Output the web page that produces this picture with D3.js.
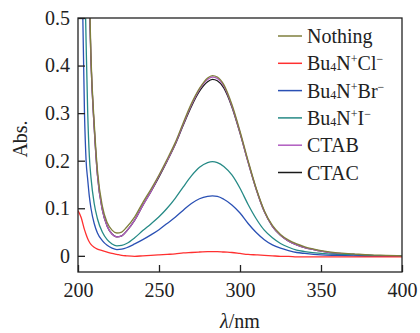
<!DOCTYPE html>
<meta charset="utf-8">
<style>
    body { margin: 0; background: #fff; }
    svg text { font-family: "Liberation Serif", "Times New Roman", serif; fill: #222; }
</style>
<script src="https://d3js.org/d3.v7.min.js"></script>
<div id="chart"></div>
<script>
    // wavelengths (nm)
    const wavelength = [200,202,204,205,206,207,208,210,212,215,218,221,224,227,230,235,240,245,250,255,260,265,270,275,280,283,286,290,295,300,305,310,315,320,325,330,335,340,350,360,370,380,390,400];

    const nothing = [2.0,1.5,1.0,0.82,0.66,0.56,0.42,0.28,0.18,0.105,0.07,0.054,0.048,0.05,0.06,0.082,0.112,0.14,0.17,0.203,0.238,0.28,0.32,0.352,0.374,0.379,0.376,0.36,0.318,0.262,0.2,0.142,0.095,0.064,0.045,0.033,0.025,0.019,0.011,0.006,0.004,0.002,0.001,0];
    const cl = [0.095,0.08,0.055,0.045,0.036,0.029,0.024,0.018,0.014,0.011,0.008,0.005,0.003,0.001,0,-0.001,0,0.001,0.002,0.003,0.004,0.006,0.007,0.008,0.009,0.009,0.009,0.008,0.007,0.005,0.003,0.002,0.001,0,-0.001,-0.001,-0.002,-0.002,-0.002,-0.002,-0.002,-0.002,-0.002,-0.002];
    const br = [1.2,0.7,0.3,0.2,0.16,0.125,0.1,0.068,0.048,0.032,0.022,0.016,0.013,0.014,0.017,0.025,0.034,0.044,0.055,0.068,0.081,0.096,0.11,0.12,0.125,0.126,0.125,0.119,0.107,0.09,0.068,0.049,0.034,0.023,0.016,0.011,0.007,0.005,0.002,0.001,0,-0.001,-0.001,-0.001];
    const iod = [1.5,0.95,0.62,0.45,0.3,0.21,0.165,0.11,0.078,0.05,0.034,0.025,0.021,0.022,0.026,0.038,0.053,0.067,0.082,0.1,0.121,0.145,0.168,0.186,0.196,0.198,0.196,0.188,0.17,0.142,0.108,0.078,0.054,0.038,0.026,0.018,0.012,0.009,0.005,0.003,0.002,0.001,0,0];
    const ctab = [2.0,1.5,1.0,0.8,0.64,0.54,0.41,0.27,0.17,0.097,0.062,0.046,0.040,0.042,0.052,0.075,0.106,0.135,0.168,0.2,0.235,0.277,0.317,0.35,0.371,0.376,0.373,0.357,0.315,0.259,0.197,0.14,0.093,0.062,0.043,0.031,0.023,0.017,0.01,0.005,0.003,0.001,0,0];
    const ctac = [2.0,1.5,1.0,0.8,0.64,0.54,0.41,0.27,0.17,0.097,0.062,0.046,0.040,0.042,0.052,0.075,0.106,0.135,0.166,0.199,0.234,0.275,0.314,0.346,0.366,0.371,0.368,0.353,0.313,0.258,0.197,0.14,0.093,0.062,0.043,0.031,0.023,0.017,0.01,0.005,0.003,0.001,0,0];

    const xTicks = [200, 250, 300, 350, 400];
    const yTicks = [0, 0.1, 0.2, 0.3, 0.4, 0.5];

    // legend order; drawing order is reversed so "Nothing" sits on top
    const series = [
        {name: "Nothing", values: nothing, color: "#7f7f3c"},
        {name: ["Bu","4","N","+","Cl","−"], values: cl, color: "#ff3030"},
        {name: ["Bu","4","N","+","Br","−"], values: br, color: "#2a50b4"},
        {name: ["Bu","4","N","+","I","−"], values: iod, color: "#268a86"},
        {name: "CTAB", values: ctab, color: "#b05cc0"},
        {name: "CTAC", values: ctac, color: "#1a1a1a"}
    ];

    const W = 420, H = 333;
    const margin = {top: 18, right: 18, bottom: 61, left: 78};
    const width = W - margin.left - margin.right,
          height = H - margin.top - margin.bottom;

    const svg = d3.select("#chart").append("svg")
        .attr("width", W).attr("height", H);
    const g = svg.append("g").attr("transform", `translate(${margin.left},${margin.top})`);

    const x = d3.scaleLinear().domain([200, 400]).range([0, width]);
    const y = d3.scaleLinear().domain([-0.034, 0.5]).range([height, 0]);

    g.append("clipPath").attr("id", "clip")
      .append("rect").attr("width", width).attr("height", height);

    const line = d3.line()
        .x((d, i) => x(wavelength[i]))
        .y(d => y(d))
        .curve(d3.curveMonotoneX);

    g.append("g").attr("clip-path", "url(#clip)")
      .selectAll("path").data(series.slice().reverse()).enter()
      .append("path")
        .attr("fill", "none")
        .attr("stroke", d => d.color)
        .attr("stroke-width", 1.3)
        .attr("d", d => line(d.values));

    // axes with inward ticks
    const yAxis = g.append("g")
        .call(d3.axisLeft(y).tickValues(yTicks).tickSizeInner(-7).tickSizeOuter(0).tickPadding(8)
            .tickFormat(d => d === 0 ? "0" : d.toFixed(1)));
    const xAxis = g.append("g").attr("transform", `translate(0,${height})`)
        .call(d3.axisBottom(x).tickValues(xTicks).tickSizeInner(-7).tickSizeOuter(0).tickPadding(11));
    [xAxis, yAxis].forEach(a => {
        a.select(".domain").remove();
        a.selectAll("line").attr("stroke", "#222").attr("stroke-width", 1.3);
        a.selectAll("text").attr("font-size", 20).attr("fill", "#222")
            .style("font-family", '"Liberation Serif", serif');
    });

    g.append("rect")
        .attr("width", width).attr("height", height)
        .attr("fill", "none").attr("stroke", "#222").attr("stroke-width", 1.3);

    // axis titles
    svg.append("text")
        .attr("transform", `translate(27,${margin.top + 121}) rotate(-90)`)
        .attr("text-anchor", "middle").attr("font-size", 20)
        .text("Abs.");
    const xt = svg.append("text")
        .attr("x", margin.left + width / 2).attr("y", 328)
        .attr("text-anchor", "middle").attr("font-size", 20);
    xt.append("tspan").attr("font-style", "italic").text("λ");
    xt.append("tspan").text("/nm");

    // legend
    const legend = svg.append("g").attr("transform", "translate(278,36)");
    series.forEach((s, i) => {
        const row = legend.append("g").attr("transform", `translate(0,${i * 27.3})`);
        row.append("line").attr("x1", 0).attr("x2", 24)
            .attr("stroke", s.color).attr("stroke-width", 1.5);
        const t = row.append("text").attr("x", 29).attr("y", 7).attr("font-size", 20);
        if (typeof s.name === "string") {
            t.text(s.name);
        } else {
            t.append("tspan").text(s.name[0]);
            t.append("tspan").attr("font-size", 12).attr("dy", 1).text(s.name[1]);
            t.append("tspan").attr("dy", -1).text(s.name[2]);
            t.append("tspan").attr("font-size", 12).attr("dy", -7).text(s.name[3]);
            t.append("tspan").attr("dy", 7).text(s.name[4]);
            t.append("tspan").attr("font-size", 12).attr("dy", -7).text(s.name[5]);
        }
    });
</script>
